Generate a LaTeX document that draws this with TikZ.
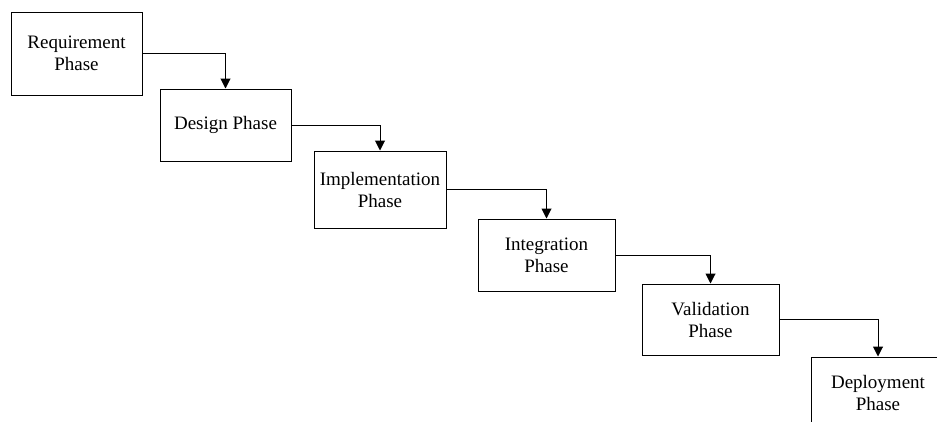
\documentclass[tikz,border=0pt]{standalone}
\usepackage{fontspec}
\setmainfont{Liberation Serif}
\usetikzlibrary{arrows.meta}
\begin{document}
\begin{tikzpicture}[x=1pt,y=-1pt,
  phasebox/.style={draw=black, line width=1pt, fill=white, align=center, inner sep=0pt,
    font=\fontsize{19}{22}\selectfont},
  flow/.style={draw=black, line width=1pt, -{Triangle[length=10pt,width=10pt]}}]
\clip (0,0) rectangle (937,421);
\fill[white] (0,0) rectangle (937,421);
\node[phasebox, minimum width=131pt, minimum height=83pt] (req) at (76.5,53.5) {Requirement\\Phase};
\node[phasebox, minimum width=131pt, minimum height=72pt] (des) at (225.5,125) {Design Phase};
\node[phasebox, minimum width=132pt, minimum height=77pt] (imp) at (380,189.5) {Implementation\\Phase};
\node[phasebox, minimum width=137pt, minimum height=72pt] (int) at (546.5,255) {Integration\\Phase};
\node[phasebox, minimum width=137pt, minimum height=71pt] (val) at (710.5,319.5) {Validation\\Phase};
\node[phasebox, minimum width=134pt, minimum height=72pt] (dep) at (878,393) {Deployment\\Phase};
\draw[flow] (req.east) -| (des.north);
\draw[flow] (des.east) -| (imp.north);
\draw[flow] (imp.east) -| (int.north);
\draw[flow] (int.east) -| (val.north);
\draw[flow] (val.east) -| (dep.north);
\end{tikzpicture}
\end{document}
